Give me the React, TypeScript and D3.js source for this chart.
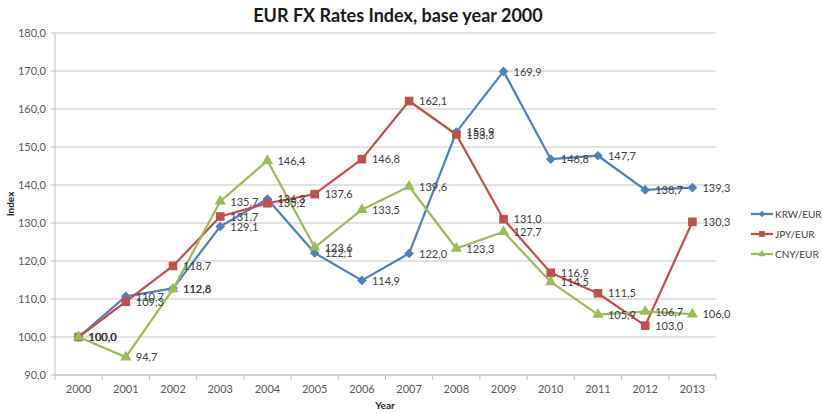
import { useEffect } from "react"
import * as d3 from "d3"

const years = ["2000", "2001", "2002", "2003", "2004", "2005", "2006", "2007", "2008", "2009", "2010", "2011", "2012", "2013"]
const krw = [100.0, 110.7, 112.8, 129.1, 136.3, 122.1, 114.9, 122.0, 153.9, 169.9, 146.8, 147.7, 138.7, 139.3]
const jpy = [100.0, 109.3, 118.7, 131.7, 135.2, 137.6, 146.8, 162.1, 153.3, 131.0, 116.9, 111.5, 103.0, 130.3]
const cny = [100.0, 94.7, 112.6, 135.7, 146.4, 123.6, 133.5, 139.6, 123.3, 127.7, 114.5, 105.9, 106.7, 106.0]
const yTicks = [90, 100, 110, 120, 130, 140, 150, 160, 170, 180]

const series = [
  { name: "KRW/EUR", values: krw, color: "#4F81BD", marker: "diamond" },
  { name: "JPY/EUR", values: jpy, color: "#C0504D", marker: "square" },
  { name: "CNY/EUR", values: cny, color: "#9BBB59", marker: "triangle" },
]

const width = 822
const height = 413
const margin = { top: 33, right: 106, bottom: 38, left: 55 }
const font = "Lato, 'Open Sans', sans-serif"

const fmt = (v: number) => d3.format(".1f")(v).replace(".", ",")

function markerPath(type: string, scale = 1) {
  if (type === "diamond") return d3.symbol(d3.symbolDiamond2, 60 * scale)()
  if (type === "square") return d3.symbol(d3.symbolSquare2, 95 * scale)()
  return d3.symbol(d3.symbolTriangle2, 90 * scale)()
}

export default function App() {
  useEffect(() => {
    document.body.style.margin = "0"
  }, [])

  const x = d3
    .scaleBand()
    .domain(years)
    .range([margin.left, width - margin.right])
  const y = d3
    .scaleLinear()
    .domain([90, 180])
    .range([height - margin.bottom, margin.top])

  const cx = (d: string) => (x(d) || 0) + x.bandwidth() / 2

  const line = d3
    .line<number>()
    .x((_, i) => cx(years[i]))
    .y((d) => y(d))

  const bottom = height - margin.bottom

  return (
    <svg width={width} height={height} style={{ display: "block", fontFamily: font }}>
      <rect width={width} height={height} fill="#fff" />
      <text x={398} y={22} textAnchor="middle" fontSize={18} fontWeight="bold" fill="#1a1a1a">
        EUR FX Rates Index, base year 2000
      </text>

      {/* grid */}
      {yTicks.map((t) => (
        <g key={t}>
          <line x1={margin.left} x2={width - margin.right} y1={y(t)} y2={y(t)} stroke="#d9d9d9" strokeWidth={1.5} />
          <line x1={margin.left - 4} x2={margin.left} y1={y(t)} y2={y(t)} stroke="#bfbfbf" />
          <text x={margin.left - 9} y={y(t)} dy="0.35em" textAnchor="end" fontSize={11} fill="#595959">
            {fmt(t)}
          </text>
        </g>
      ))}
      <line x1={margin.left} x2={margin.left} y1={margin.top} y2={bottom} stroke="#bfbfbf" />
      <line x1={margin.left} x2={width - margin.right} y1={bottom} y2={bottom} stroke="#bfbfbf" />
      {years.map((yr) => (
        <g key={yr}>
          <line x1={x(yr)! + x.bandwidth()} x2={x(yr)! + x.bandwidth()} y1={bottom} y2={bottom + 5} stroke="#bfbfbf" />
          <text x={cx(yr)} y={bottom + 18} textAnchor="middle" fontSize={11} fill="#595959">
            {yr}
          </text>
        </g>
      ))}
      <line x1={margin.left} x2={margin.left} y1={bottom} y2={bottom + 5} stroke="#bfbfbf" />

      <text x={385} y={409} textAnchor="middle" fontSize={10} fontWeight="bold" fill="#262626">
        Year
      </text>
      <text transform={`translate(14,${(margin.top + bottom) / 2}) rotate(-90)`} textAnchor="middle" fontSize={10} fontWeight="bold" fill="#262626">
        Index
      </text>

      {/* series */}
      {series.map((s) => (
        <g key={s.name}>
          <path d={line(s.values) || ""} fill="none" stroke={s.color} strokeWidth={2.25} strokeLinejoin="round" />
          {s.values.map((v, i) => (
            <path key={i} d={markerPath(s.marker) || ""} transform={`translate(${cx(years[i])},${y(v)})`} fill={s.color} />
          ))}
        </g>
      ))}
      {series.map((s) => (
        <g key={s.name + "-labels"}>
          {s.values.map((v, i) => (
            <text key={i} x={cx(years[i]) + 10} y={y(v)} dy="0.38em" fontSize={11} fill="#404040">
              {fmt(v)}
            </text>
          ))}
        </g>
      ))}

      {/* legend */}
      {series.map((s, i) => (
        <g key={s.name + "-legend"} transform={`translate(751,${214 + i * 20})`}>
          <line x1={0} x2={22} stroke={s.color} strokeWidth={2.25} />
          <path d={markerPath(s.marker, 0.45) || ""} transform="translate(11,0)" fill={s.color} />
          <text x={24} dy="0.35em" fontSize={10} fill="#404040">
            {s.name}
          </text>
        </g>
      ))}
    </svg>
  )
}
